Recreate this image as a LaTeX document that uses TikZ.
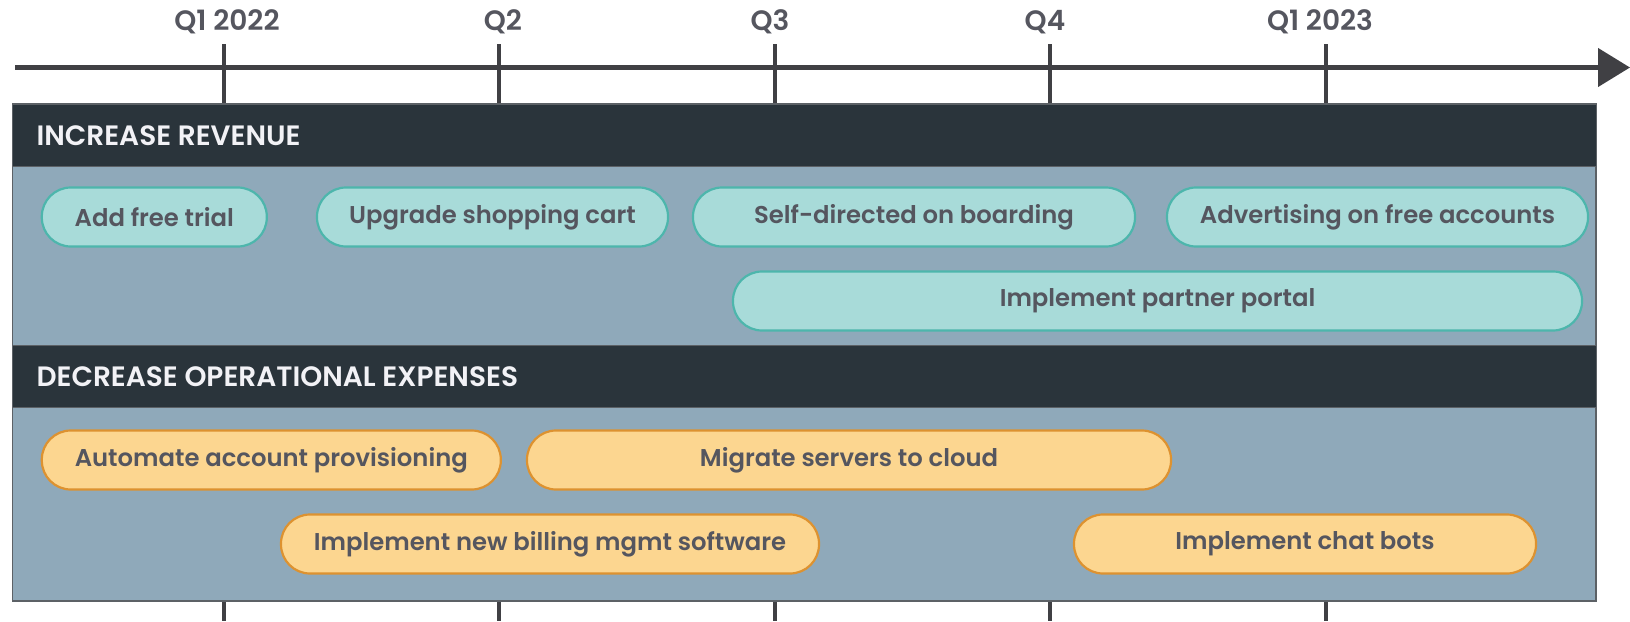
\documentclass[tikz,border=0pt]{standalone}
\usepackage{fontspec}
\setmainfont{Poppins}[BoldFont={Poppins SemiBold}]
\usetikzlibrary{arrows.meta}
\definecolor{axiscol}{HTML}{404044}
\definecolor{headcol}{HTML}{2A343B}
\definecolor{bodycol}{HTML}{8FA9BA}
\definecolor{framecol}{HTML}{5C6166}
\definecolor{tealfill}{HTML}{A8DBD9}
\definecolor{tealline}{HTML}{4DB6AC}
\definecolor{orfill}{HTML}{FCD690}
\definecolor{orline}{HTML}{DD9230}
\definecolor{txtcol}{HTML}{55565F}
\definecolor{headtxt}{HTML}{F2F2F6}
\tikzset{
  tick/.style={draw=axiscol, line width=4pt},
  qlabel/.style={font=\fontsize{28}{32}\selectfont\bfseries, text=txtcol, anchor=center},
  headbar/.style={fill=headcol, draw=framecol, line width=1pt},
  bodyrect/.style={fill=bodycol, draw=framecol, line width=1.5pt},
  headlabel/.style={font=\fontsize{28}{32}\selectfont\bfseries, text=headtxt, anchor=west},
  pill/.style={rounded corners=29pt, minimum height=59pt, line width=2.2pt, text=txtcol,
     font=\fontsize{24.3}{28}\selectfont\bfseries, inner sep=0pt},
  tealpill/.style={pill, fill=tealfill, draw=tealline},
  orpill/.style={pill, fill=orfill, draw=orline},
}
\begin{document}
\begin{tikzpicture}[x=1pt,y=-1pt]
\useasboundingbox (0,0) rectangle (1630,621);
% timeline
\coordinate (axstart) at (15,67.5);
\coordinate (axend) at (1630,67.5);
\draw[draw=axiscol, line width=4.5pt, -{Triangle[length=32pt,width=38pt]}] (axstart) -- (axend);
% ticks
\foreach \x/\lx/\n/\t in {223.5/227/a/Q1 2022, 499/503/b/Q2, 774.5/770/c/Q3, 1050/1045/d/Q4, 1326/1320/e/Q1 2023}{
  \coordinate (t\n top) at (\x,44);
  \coordinate (t\n mid) at (\x,104);
  \coordinate (t\n low) at (\x,600);
  \coordinate (t\n bot) at (\x,621);
  \draw[tick] (t\n top) -- (t\n mid);
  \draw[tick] (t\n low) -- (t\n bot);
  \node[qlabel] (q\n) at (\lx,22) {\t};
}
% panel
\node[bodyrect, minimum width=1583.5pt, minimum height=497pt, inner sep=0pt] (panel) at (804.25,352.5) {};
\node[headbar, minimum width=1583.5pt, minimum height=62pt, inner sep=0pt] (h1) at (804.25,135) {};
\node[headlabel] (h1t) at (33,136) {INCREASE REVENUE};
\node[headbar, minimum width=1583.5pt, minimum height=62pt, inner sep=0pt] (h2) at (804.25,376) {};
\node[headlabel] (h2t) at (33,377) {DECREASE OPERATIONAL EXPENSES};
% revenue items
\node[tealpill, minimum width=225pt] (p1) at (154.3,217) {Add free trial};
\node[tealpill, minimum width=351pt] (p2) at (492.5,217) {Upgrade shopping cart};
\node[tealpill, minimum width=442pt] (p3) at (914,217) {Self-directed on boarding};
\node[tealpill, minimum width=421pt] (p4) at (1377.5,217) {Advertising on free accounts};
\node[tealpill, minimum width=849pt] (p5) at (1157.5,301) {Implement partner portal};
% expense items
\node[orpill, minimum width=459pt] (o1) at (271.3,460) {Automate account provisioning};
\node[orpill, minimum width=644pt] (o2) at (849,460) {Migrate servers to cloud};
\node[orpill, minimum width=538pt] (o3) at (550,544) {Implement new billing mgmt software};
\node[orpill, minimum width=462pt] (o4) at (1305,544) {Implement chat bots};
\end{tikzpicture}
\end{document}
